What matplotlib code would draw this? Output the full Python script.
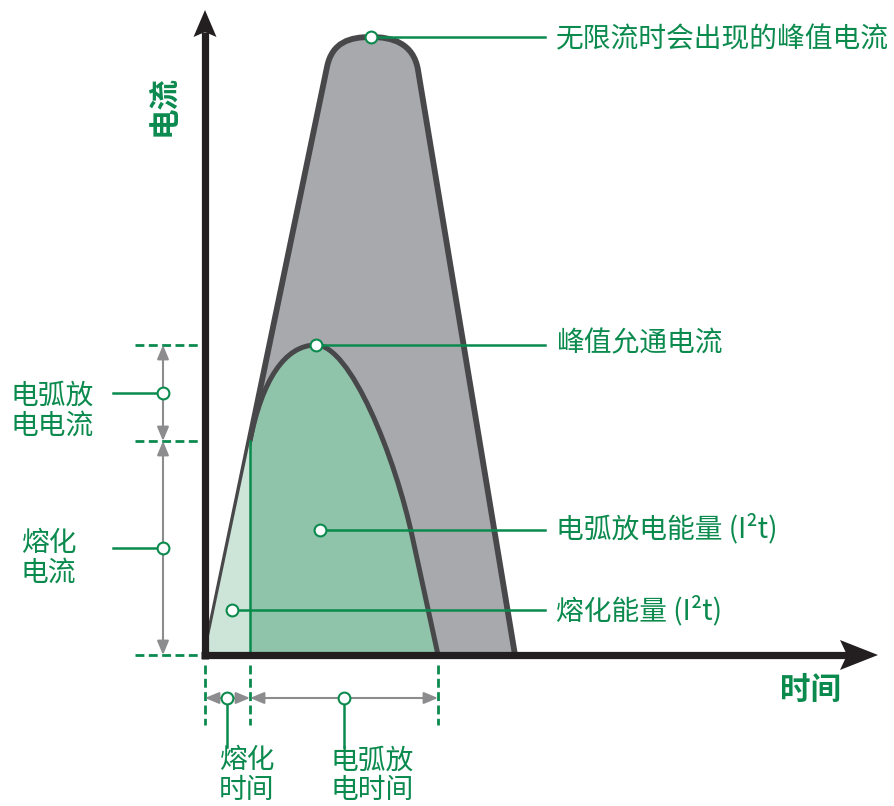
import matplotlib
matplotlib.use('Agg')
import matplotlib.pyplot as plt
from matplotlib.path import Path
from matplotlib.patches import PathPatch, Polygon

plt.rcParams['font.family'] = ['Noto Sans CJK SC', 'DejaVu Sans']

# ---------------- data (arbitrary units: time -> right, current -> up) ----------------
# Prospective (unlimited) current envelope: linear rise, rounded crest, linear fall
prosp_t = [0, 122, 127, 145, 166, 187, 208.5, 213, 310]
prosp_i = [0, 588, 613, 618, 618, 618, 612, 585, 0]
prosp_codes = ['M', 'L', 'C', 'C', 'C', 'C', 'C', 'C', 'L']

# Let-through (arc) current: from melting point to crest, then decay to zero
arc_t = [45, 57, 80, 111, 145, 190, 208, 233]
arc_i = [214, 275, 310, 310, 310, 200, 115, 0]
arc_codes = ['M', 'C', 'C', 'C', 'C', 'C', 'C', 'L']

melt_time = 45
melt_current = 214
letthrough_peak_t = 111
letthrough_peak_i = 310
arc_end_time = 233
prosp_peak_t = 166
prosp_peak_i = 618

arc_energy_pt = (115, 125)
melt_energy_pt = (27, 45)

right_labels = ['无限流时会出现的峰值电流', '峰值允通电流', '电弧放电能量 (I²t)', '熔化能量 (I²t)']
x_label = '时间'
y_label = '电流'
arc_current_label = ['电弧放', '电电流']
melt_current_label = ['熔化', '电流']
melt_time_label = ['熔化', '时间']
arc_time_label = ['电弧放', '电时间']

# ---------------- styles ----------------
GREEN = '#0b8a4e'
GRAY_FILL = '#a8a9ac'
GRAY_EDGE = '#48484a'
MID_GREEN = '#8fc4aa'
LIGHT_GREEN = '#cde4d8'
AXIS = '#231f20'
ARROW_GRAY = '#8c8c8e'
CODE = {'M': Path.MOVETO, 'L': Path.LINETO, 'C': Path.CURVE4}

fig = plt.figure(figsize=(8.95, 8.06), dpi=100)
ax = fig.add_axes([0, 0, 1, 1])
ax.set_xlim(-205, 690)
ax.set_ylim(-151, 655)
ax.axis('off')


def make_path(ts, is_, codes, close_to=None):
    verts = list(zip(ts, is_))
    cds = [CODE[c] for c in codes]
    if close_to is not None:
        for p in close_to:
            verts.append(p)
            cds.append(Path.LINETO)
        verts.append(verts[0])
        cds.append(Path.CLOSEPOLY)
    return Path(verts, cds)


# prospective current fill
ax.add_patch(PathPatch(make_path(prosp_t, prosp_i, prosp_codes, close_to=[]),
                       facecolor=GRAY_FILL, edgecolor='none', zorder=1))
# arc region fill
ax.add_patch(PathPatch(make_path(arc_t, arc_i, arc_codes, close_to=[(melt_time, 0)]),
                       facecolor=MID_GREEN, edgecolor='none', zorder=2))
# outlines
ax.add_patch(PathPatch(make_path(prosp_t, prosp_i, prosp_codes),
                       facecolor='none', edgecolor=GRAY_EDGE, lw=4.2,
                       joinstyle='round', capstyle='butt', zorder=3))
ax.add_patch(PathPatch(make_path(arc_t, arc_i, arc_codes),
                       facecolor='none', edgecolor=GRAY_EDGE, lw=3.6,
                       joinstyle='round', capstyle='butt', zorder=4))
# melting region
ax.add_patch(Polygon([(0, 0), (melt_time, melt_current), (melt_time, 0)],
                     closed=True, facecolor=LIGHT_GREEN, edgecolor='none', zorder=5))
ax.plot([melt_time, melt_time], [0, melt_current], color=GREEN, lw=1.8, zorder=6)

# ---------------- axes with arrows ----------------
x_tip, y_tip = 673, 645
ax.plot([-4, x_tip - 31], [0, 0], color=AXIS, lw=5.2, solid_capstyle='butt', zorder=8)
ax.add_patch(Polygon([(x_tip, 0), (x_tip - 38, 15), (x_tip - 31, 0), (x_tip - 38, -15)],
                     closed=True, facecolor=AXIS, edgecolor='none', zorder=8))
ax.plot([0, 0], [-4, y_tip - 22], color=AXIS, lw=5.2, solid_capstyle='butt', zorder=8)
ax.add_patch(Polygon([(0, y_tip), (-11.5, y_tip - 27), (0, y_tip - 22), (11.5, y_tip - 27)],
                     closed=True, facecolor=AXIS, edgecolor='none', zorder=8))

ax.text(606, -35, x_label, color=GREEN, fontsize=22, fontweight='bold',
        ha='center', va='center', zorder=9)
ax.text(-41.5, 549, y_label, color=GREEN, fontsize=22, fontweight='bold',
        rotation=90, ha='center', va='center', zorder=9)

# ---------------- dashed reference lines ----------------
dash = (0, (3.2, 1.6))
for lvl in [letthrough_peak_i, melt_current, 0]:
    ax.plot([-70, -2], [lvl, lvl], color=GREEN, lw=2.0, linestyle=dash, zorder=7)
for tt in [0, melt_time, arc_end_time]:
    ax.plot([tt, tt], [-10, -70], color=GREEN, lw=2.0, linestyle=dash, zorder=7)


def dbl_arrow(p0, p1):
    ax.annotate('', xy=p1, xytext=p0,
                arrowprops=dict(arrowstyle='<|-|>,head_length=0.6,head_width=0.25',
                                color=ARROW_GRAY, lw=1.5, shrinkA=0, shrinkB=0,
                                mutation_scale=14), zorder=7)


def marker(x, y):
    ax.plot([x], [y], 'o', ms=8.5, mfc='white', mec=GREEN, mew=1.5, zorder=12)


def two_line(x, y_center, lines):
    ax.text(x, y_center, '\n'.join(lines), color=GREEN, fontsize=fs,
            ha='center', va='center', multialignment='center', linespacing=1.0)


fs = 20

# current spans (left)
ax_x = -42
dbl_arrow((ax_x, melt_current), (ax_x, letthrough_peak_i))
dbl_arrow((ax_x, 0), (ax_x, melt_current))
mid_arc = (letthrough_peak_i + melt_current) / 2
mid_melt = melt_current / 2
for m in [mid_arc, mid_melt]:
    ax.plot([-92, ax_x], [m, m], color=GREEN, lw=1.8, zorder=11)
    marker(ax_x, m)

two_line(-152.5, 244.5, arc_current_label)
two_line(-156.5, 97, melt_current_label)

# time spans (bottom)
ay = -43
dbl_arrow((0, ay), (melt_time, ay))
dbl_arrow((melt_time, ay), (arc_end_time, ay))
for m in [melt_time / 2, (melt_time + arc_end_time) / 2]:
    ax.plot([m, m], [ay, -92], color=GREEN, lw=1.8, zorder=11)
    marker(m, ay)
two_line(41.5, -120.5, melt_time_label)
two_line(167.5, -120.5, arc_time_label)

# right-side annotations
pts = [(prosp_peak_t, prosp_peak_i), (letthrough_peak_t, letthrough_peak_i),
       arc_energy_pt, melt_energy_pt]
text_y = [616, 312, 126, 44]
for (px, py), ty, lab in zip(pts, text_y, right_labels):
    ax.plot([px, 340], [py, py], color=GREEN, lw=1.8, zorder=11)
    marker(px, py)
    ax.text(351, ty, lab, color=GREEN, fontsize=fs, ha='left', va='center')

fig.savefig('out.png', dpi=100)
